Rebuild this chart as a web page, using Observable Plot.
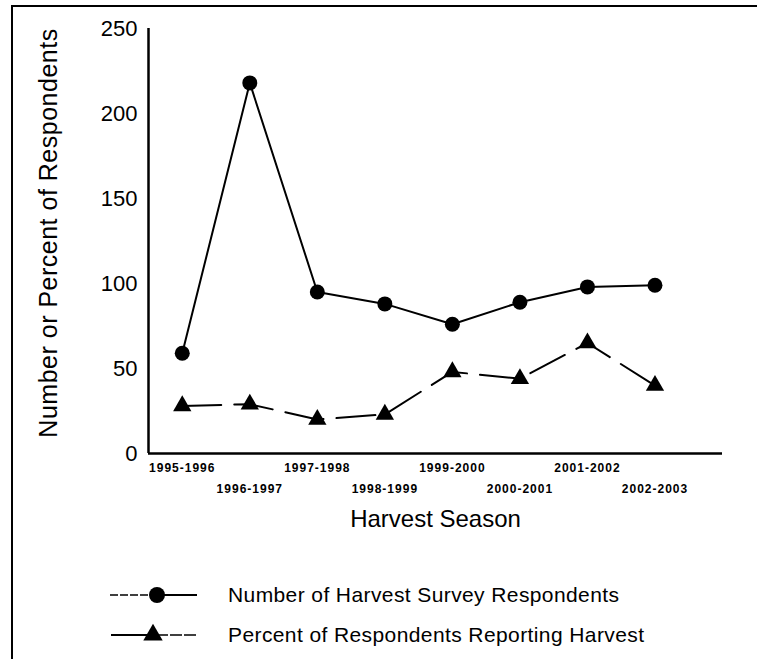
<!DOCTYPE html>
<html>
<head>
<meta charset="utf-8">
<script src="https://cdn.jsdelivr.net/npm/d3@7"></script>
<script src="https://cdn.jsdelivr.net/npm/@observablehq/plot@0.6"></script>
<style>
  html, body { margin: 0; padding: 0; background: #fff; }
  body { width: 757px; height: 659px; position: relative; overflow: hidden; font-family: "Liberation Sans", Arial, sans-serif; }
  #frame { position: absolute; left: 11px; top: 5px; width: 760px; height: 700px; border-top: 2px solid #000; border-left: 2.5px solid #000; box-sizing: border-box; }
  #chart { position: absolute; left: 0; top: 0; }
  #chart g[font-weight="bold"] { letter-spacing: 1px; }
  #chart g[font-size="25"] { letter-spacing: 0.5px; }
  .legend { position: absolute; left: 0; top: 0; width: 757px; }
  .row { position: absolute; left: 0; height: 30px; width: 757px; }
  .row svg { position: absolute; left: 100px; top: 0; }
  .row span { position: absolute; left: 228px; top: 2px; font-size: 21px; letter-spacing: 0.4px; line-height: 26px; color: #000; white-space: nowrap; }
</style>
</head>
<body>
<div id="frame"></div>
<div id="chart"></div>
<div class="legend" id="legend"></div>
<script>
const seasons = ["1995-1996", "1996-1997", "1997-1998", "1998-1999", "1999-2000", "2000-2001", "2001-2002", "2002-2003"];
const respondents = [59, 218, 95, 88, 76, 89, 98, 99];
const percentReporting = [28, 29, 20, 23, 48, 44, 65, 40];
const yTicks = [0, 50, 100, 150, 200, 250];
const seriesNames = ["Number of Harvest Survey Respondents", "Percent of Respondents Reporting Harvest"];
const xTitle = "Harvest Season";
const yTitle = "Number or Percent of Respondents";

const data = seasons.map((s, i) => ({i, season: s, respondents: respondents[i], pct: percentReporting[i]}));
const font = "'Liberation Sans', Arial, sans-serif";

const plot = Plot.plot({
  width: 757,
  height: 545,
  marginLeft: 148,
  marginRight: 35,
  marginTop: 28,
  marginBottom: 92,
  style: {fontFamily: font, color: "#000", background: "transparent", overflow: "visible"},
  x: {type: "linear", domain: [-0.5, 8], axis: null},
  y: {domain: [0, 250], axis: null},
  marks: [
    Plot.axisY({ticks: yTicks, tickSize: 0, tickPadding: 11, fontSize: 22, label: null}),
    Plot.ruleX([-0.5], {stroke: "#000", strokeWidth: 2.5}),
    Plot.ruleY([0], {stroke: "#000", strokeWidth: 2.5}),
    Plot.line(data, {x: "i", y: "respondents", stroke: "#000", strokeWidth: 2}),
    Plot.dot(data, {x: "i", y: "respondents", r: 7.5, fill: "#000", stroke: null}),
    Plot.line(data, {x: "i", y: "pct", stroke: "#000", strokeWidth: 2, strokeDasharray: "39,13"}),
    Plot.dot(data, {x: "i", y: "pct", symbol: "triangle", r: 6.8, fill: "#000", stroke: null}),
    Plot.text(data.filter(d => d.i % 2 === 0), {x: "i", y: () => 0, text: "season", dy: 15, fontSize: 12, fontWeight: "bold", fill: "#000"}),
    Plot.text(data.filter(d => d.i % 2 === 1), {x: "i", y: () => 0, text: "season", dy: 36, fontSize: 12, fontWeight: "bold", fill: "#000"}),
    Plot.text([xTitle], {text: d => d, frameAnchor: "bottom", dy: 73, fontSize: 24, fill: "#000"}),
    Plot.text([yTitle], {text: d => d, frameAnchor: "left", textAnchor: "middle", lineAnchor: "middle", rotate: -90, dx: -100, dy: -8, fontSize: 25, fill: "#000"})
  ]
});
document.getElementById("chart").appendChild(plot);

// legend
const legend = document.getElementById("legend");
const rows = [
  {top: 580, name: seriesNames[0], marker: "circle"},
  {top: 620, name: seriesNames[1], marker: "triangle"}
];
rows.forEach(r => {
  const row = document.createElement("div");
  row.className = "row";
  row.style.top = r.top + "px";
  let svg;
  if (r.marker === "circle") {
    svg = `<svg width="110" height="30" viewBox="0 0 110 30">
      <line x1="10" y1="15" x2="49" y2="15" stroke="#000" stroke-width="1.5" stroke-dasharray="8,2"/>
      <line x1="57" y1="15" x2="97" y2="15" stroke="#000" stroke-width="2"/>
      <circle cx="57" cy="15" r="8" fill="#000"/></svg>`;
  } else {
    const t = d3.symbol(d3.symbolTriangle, Math.PI * 7.2 * 7.2)();
    svg = `<svg width="110" height="30" viewBox="0 0 110 30">
      <line x1="11" y1="15" x2="50" y2="15" stroke="#000" stroke-width="2"/>
      <line x1="56" y1="15" x2="97" y2="15" stroke="#000" stroke-width="1.5" stroke-dasharray="12,2"/>
      <path transform="translate(53,15)" d="${t}" fill="#000"/></svg>`;
  }
  row.innerHTML = svg + `<span>${r.name}</span>`;
  legend.appendChild(row);
});
</script>
</body>
</html>
